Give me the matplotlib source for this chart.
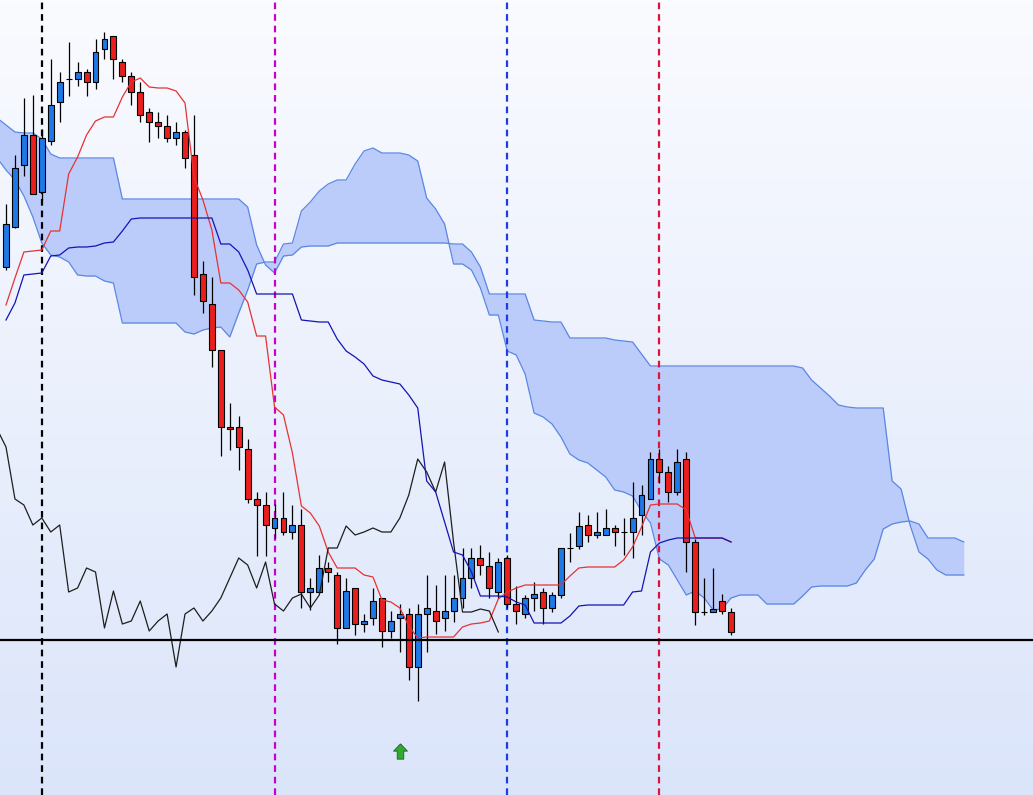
import numpy as np
import matplotlib
matplotlib.use("Agg")
import matplotlib.pyplot as plt
from matplotlib.patches import Rectangle
from matplotlib.path import Path

# price = TOP - reading.
TOP = 795

# ---- candles (bar index 0..81) ----
opens_r = [267, 227, 165, 135, 192, 141, 102, 79, 79, 72,
           82, 49, 36, 62, 76, 92, 112, 122, 126, 138,
           132, 155, 274, 304, 350, 427, 427, 449, 499, 505,
           528, 518, 532, 525, 592, 592, 568, 575, 628, 588,
           624, 618, 598, 631, 618, 614, 667, 614, 611, 618,
           611, 598, 578, 558, 566, 592, 558, 604, 614, 598,
           592, 608, 595, 548, 546, 525, 535, 535, 528, 532,
           532, 515, 499, 459, 472, 492, 459, 542, 612, 612,
           601, 612]
highs_r = [204, 155, 98, 95, 129, 59, 72, 42, 62, 69,
           39, 32, 36, 59, 72, 82, 108, 112, 115, 122,
           130, 115, 261, 277, 350, 403, 416, 439, 492, 492,
           504, 492, 505, 509, 578, 555, 562, 572, 578, 588,
           614, 588, 598, 611, 604, 608, 604, 575, 585, 575,
           575, 548, 548, 545, 552, 558, 555, 586, 595, 582,
           588, 592, 548, 533, 512, 515, 512, 509, 525, 518,
           482, 485, 452, 449, 466, 449, 452, 539, 578, 568,
           594, 608]
lows_r = [270, 228, 176, 194, 200, 145, 122, 96, 86, 96,
          89, 59, 79, 82, 105, 122, 142, 138, 142, 145,
          168, 295, 313, 367, 456, 450, 470, 503, 556, 556,
          538, 535, 539, 608, 610, 593, 582, 644, 628, 635,
          632, 625, 647, 638, 652, 680, 701, 652, 634, 631,
          622, 608, 588, 575, 598, 598, 608, 624, 618, 611,
          624, 612, 598, 562, 549, 542, 538, 535, 546, 555,
          558, 535, 499, 483, 502, 495, 572, 625, 615, 612,
          614, 635]
closes_r = [224, 168, 135, 194, 138, 105, 82, 79, 72, 82,
            52, 39, 59, 76, 92, 115, 122, 126, 138, 132,
            158, 277, 301, 350, 427, 429, 447, 499, 505, 525,
            518, 532, 525, 592, 588, 568, 572, 628, 591, 624,
            621, 601, 631, 621, 614, 667, 614, 608, 621, 611,
            598, 578, 558, 565, 588, 562, 604, 611, 598, 594,
            608, 595, 548, 548, 526, 535, 532, 528, 532, 532,
            518, 495, 459, 472, 492, 462, 542, 612, 612, 609,
            611, 632]

# ---- Ichimoku lines (bar index 0..81) ----
tenkan_r = [305, 278, 252, 251, 250, 231, 231, 174, 157, 135,
            121, 117, 117, 97, 82, 78, 87, 88, 88, 91,
            103, 177, 200, 230, 283, 283, 290, 302, 336, 336,
            407, 415, 453, 506, 513, 526, 552, 568, 568, 568,
            575, 577, 600, 602, 608, 626, 638, 637, 637, 637,
            637, 627, 624, 623, 621, 599, 592, 588, 585, 585,
            585, 585, 585, 576, 568, 567, 567, 567, 567, 560,
            547, 527, 505, 504, 504, 504, 510, 538, 538, 538,
            538, 542]
kijun_r = [320, 303, 275, 274, 273, 256, 255, 248, 247, 247,
           246, 243, 242, 231, 219, 218, 218, 218, 218, 218,
           218, 218, 218, 218, 244, 244, 252, 270, 294, 294,
           294, 294, 294, 320, 321, 322, 322, 339, 351, 357,
           364, 376, 380, 382, 384, 395, 408, 481, 492, 522,
           552, 555, 572, 596, 596, 596, 597, 602, 605, 623,
           623, 623, 623, 616, 606, 605, 605, 605, 605, 605,
           592, 591, 552, 543, 540, 538, 538, 538, 538, 538,
           538, 542]

# ---- cloud spans (bar index -1..107) ----
CLOUD_START = -1
span_a_r = [158, 170, 180, 196, 217, 243, 255, 257, 262, 275,
            276, 276, 281, 283, 323, 323, 323, 323, 323, 323,
            323, 332, 334, 330, 328, 327, 337,
            313, 290, 264, 262, 262, 244, 243, 211, 202, 191,
            184, 180, 180, 164, 151, 148, 153, 153, 153, 155,
            161, 198, 209, 224, 264, 264, 270, 288, 315, 315,
            351, 355, 374, 413, 417, 424, 437, 454, 460, 463,
            470, 477, 490, 492, 496, 511, 523, 559, 565, 580,
            595, 591, 598, 610, 609, 598, 595, 595, 595, 604,
            604, 604, 604, 596, 587, 586, 586, 586, 586, 583,
            570, 559, 529, 524, 522, 521, 524, 538, 538, 538,
            538, 542]
span_b_r = [118, 125, 132, 133, 133, 139, 154, 158, 158, 158,
            158, 158, 158, 158, 199, 199, 199, 199, 199, 199,
            199, 199, 199, 199, 199, 199, 199, 199, 207, 245,
            265,
            273, 256, 255, 247, 246, 246, 246, 243, 243, 243,
            243, 243, 243, 243, 243, 243, 243, 243, 243, 243,
            244, 244, 252, 267, 294, 294, 294, 294, 294, 320,
            321, 322, 322, 338, 338, 338, 338, 338, 340, 341,
            342, 354, 366, 366, 366, 366, 366, 366, 366, 366,
            366, 366, 366, 366, 366, 366, 366, 366, 366, 368,
            380, 388, 396, 405, 407, 408, 408, 408, 408, 481,
            489, 525, 552, 559, 570, 575, 575, 575]

SHIFT = 26
marker_bars = [4, 30, 56, 73]
marker_colors = ["#000000", "#C800C8", "#1E3CE6", "#DC143C"]
hline_r = 640
arrow_bar = 44
arrow_r = 751

def lv(a):
    return TOP - np.asarray(a, dtype=float)

O, H, L, C = lv(opens_r), lv(highs_r), lv(lows_r), lv(closes_r)
tenkan, kijun = lv(tenkan_r), lv(kijun_r)
span_a, span_b = lv(span_a_r), lv(span_b_r)
bars = np.arange(len(O))
cloud_x = np.arange(CLOUD_START, CLOUD_START + len(span_a))

W, Hpx = 1033, 795
fig = plt.figure(figsize=(W / 100, Hpx / 100), dpi=100)
ax = fig.add_axes([0, 0, 1, 1])
x0_px, step_px = 6.0, 8.951
xmin = -x0_px / step_px
xmax = (W - x0_px) / step_px
ax.set_xlim(xmin, xmax)
ax.set_ylim(0, TOP)
ax.axis("off")

# background gradient
top_c = np.array([250, 251, 255]) / 255
bot_c = np.array([219, 229, 250]) / 255
t = np.linspace(0, 1, 256)[:, None]
grad = (bot_c[None, :] * (1 - t) + top_c[None, :] * t)[:, None, :]
ax.imshow(grad, extent=[xmin, xmax, 0, TOP], origin="lower", aspect="auto", zorder=0)

# cloud
ax.fill_between(cloud_x, span_a, span_b, color="#BCCCFA", lw=0, zorder=1)
ax.plot(cloud_x, span_a, color="#5A86E4", lw=0.9, zorder=1.5)
ax.plot(cloud_x, span_b, color="#5A86E4", lw=0.9, zorder=1.5)

# vertical marker lines
for b, c in zip(marker_bars, marker_colors):
    ax.axvline(b, color=c, lw=1.6, ls=(0, (3, 2.2)), zorder=2)

# candles
bw = 0.66
for i in bars:
    ax.plot([i, i], [L[i], H[i]], color="black", lw=0.9, zorder=3, solid_capstyle="butt")
    up = C[i] >= O[i]
    col = "#1E78E6" if up else "#EB1E1E"
    lo, hi = min(O[i], C[i]), max(O[i], C[i])
    ax.add_patch(Rectangle((i - bw / 2, lo), bw, hi - lo, facecolor=col,
                           edgecolor="black", lw=0.8, zorder=3.2))

# lines
ax.plot(bars, tenkan, color="#E63232", lw=0.9, zorder=4)
ax.plot(bars, kijun, color="#1414B4", lw=0.9, zorder=4.1)
chik_src = np.arange(SHIFT + CLOUD_START, len(C))
ax.plot(chik_src - SHIFT, C[chik_src], color="#1E1E1E", lw=0.9, zorder=4)

# horizontal level
ax.axhline(lv(hline_r), color="black", lw=1.6, zorder=5)

# arrow signal
arrow = Path([(0, 1), (-0.9, 0.05), (-0.42, 0.05), (-0.42, -1),
              (0.42, -1), (0.42, 0.05), (0.9, 0.05), (0, 1)])
ax.plot([arrow_bar], [lv(arrow_r)], marker=arrow, markersize=11,
        markerfacecolor="#32AA32", markeredgecolor="#1E6E1E", markeredgewidth=0.7,
        ls="none", zorder=6)

fig.savefig("out.png", dpi=100)
